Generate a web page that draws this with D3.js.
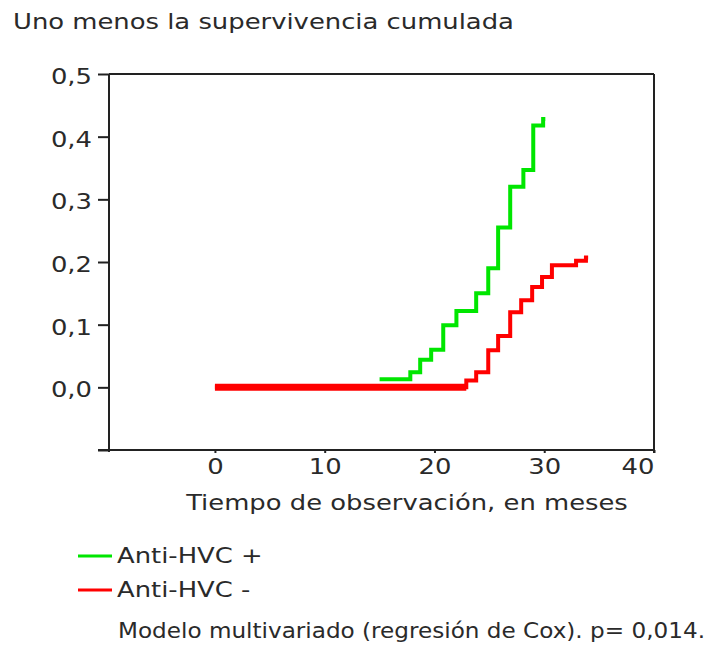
<!DOCTYPE html>
<html>
<head>
<meta charset="utf-8">
<script src="https://cdn.jsdelivr.net/npm/d3@7"></script>
<style>
  html, body { margin: 0; padding: 0; background: #fff; }
  svg { display: block; }
  text { font-family: "DejaVu Sans", Verdana, sans-serif; fill: #2a2a2a; }
</style>
</head>
<body>
<svg id="chart" width="713" height="651"></svg>
<script>
// ---- data ----
const titleText = "Uno menos la supervivencia cumulada";
const xAxisTitle = "Tiempo de observación, en meses";
const footnote = "Modelo multivariado (regresión de Cox). p= 0,014.";

const seriesNames = ["Anti-HVC +", "Anti-HVC -"];
const seriesColors = ["#00e600", "#ff0000"];

// Anti-HVC + : step times (months) and cumulative incidence
const greenTimes = [15.0, 17.8, 18.7, 19.7, 20.8, 22.0, 23.8, 24.9, 25.8, 26.9, 28.1, 29.0, 29.9, 30.1];
const greenVals  = [0.013, 0.024, 0.044, 0.060, 0.099, 0.122, 0.150, 0.190, 0.255, 0.320, 0.347, 0.418, 0.428, 0.428];

// Anti-HVC - : step times (months) and cumulative incidence
const redTimes = [0, 22.9, 23.8, 24.9, 25.8, 26.9, 27.9, 28.9, 29.8, 30.7, 32.9, 33.8, 34.0];
const redVals  = [0, 0.011, 0.024, 0.059, 0.082, 0.120, 0.139, 0.160, 0.176, 0.195, 0.202, 0.207, 0.207];

const xTicks = [0, 10, 20, 30, 40];
const xTickLabels = ["0", "10", "20", "30", "40"];
const yTicks = [-0.1, 0.0, 0.1, 0.2, 0.3, 0.4, 0.5];
const yTickLabels = ["", "0,0", "0,1", "0,2", "0,3", "0,4", "0,5"];

// ---- layout ----
const K = 1.23;          // horizontal stretch of the lettering in the reference
const FS = 21;
const M = { left: 109, right: 654, top: 74, bottom: 450 };

const svg = d3.select("#chart");

const x = d3.scaleLinear().domain([-9.65, 40]).range([M.left, M.right]);
const y = d3.scaleLinear().domain([-0.1, 0.5]).range([M.bottom, M.top]);

function stretch(sel, width) {
  sel.each(function () {
    const w = this.getComputedTextLength();
    if (w > 0) {
      this.setAttribute("textLength", (width || w * K).toFixed(1));
      this.setAttribute("lengthAdjust", "spacingAndGlyphs");
    }
  });
}

// title
svg.append("text").attr("x", 13).attr("y", 29)
  .style("font-size", FS + "px").text(titleText).call(stretch);

// frame (top and right)
svg.append("line").attr("x1", M.left).attr("x2", M.right).attr("y1", M.top).attr("y2", M.top)
  .attr("stroke", "#222").attr("stroke-width", 2);
svg.append("line").attr("x1", M.right).attr("x2", M.right).attr("y1", M.top).attr("y2", M.bottom + 3)
  .attr("stroke", "#222").attr("stroke-width", 2);

// y axis
const yAxis = d3.axisLeft(y).tickValues(yTicks)
  .tickFormat((d, i) => yTickLabels[i]).tickSize(11).tickSizeOuter(0).tickPadding(6);
const gy = svg.append("g").attr("transform", `translate(${M.left},0)`).call(yAxis);
gy.select(".domain").attr("stroke", "#222").attr("stroke-width", 2)
  .attr("d", `M0,${M.top}V${M.bottom + 2}`);
gy.selectAll(".tick line").attr("stroke", "#222").attr("stroke-width", 2);
gy.selectAll(".tick text").style("font-size", FS + "px").attr("fill", "#2a2a2a")
  .attr("font-family", null).attr("dy", "0.45em").call(stretch);

// x axis
const xAxis = d3.axisBottom(x).tickValues(xTicks)
  .tickFormat((d, i) => xTickLabels[i]).tickSize(3).tickSizeOuter(0).tickPadding(5);
const gx = svg.append("g").attr("transform", `translate(0,${M.bottom})`).call(xAxis);
gx.select(".domain").attr("stroke", "#222").attr("stroke-width", 2)
  .attr("d", `M${M.left - 11},0H${M.right + 1}`);
gx.selectAll(".tick line").attr("stroke", "#222").attr("stroke-width", 2);
gx.selectAll(".tick text").style("font-size", FS + "px").attr("fill", "#2a2a2a")
  .attr("font-family", null).attr("dy", "0.75em")
  .attr("text-anchor", (d, i) => i === xTicks.length - 1 ? "end" : "middle")
  .call(stretch);

// x axis title
svg.append("text").attr("x", 407).attr("y", 510).attr("text-anchor", "middle")
  .style("font-size", FS + "px").text(xAxisTitle).call(stretch);

// curves
const line = d3.line().x(d => x(d[0])).y(d => y(d[1])).curve(d3.curveStepAfter);
const red = d3.zip(redTimes, redVals);
const green = d3.zip(greenTimes, greenVals);

const plot = svg.append("g");
// red flat part at zero (drawn heavier in the reference)
const zeroEnd = red.findIndex(d => d[1] > 0);
plot.append("path").datum(red.slice(0, zeroEnd + 1).map((d, i, a) => i === a.length - 1 ? [d[0], 0] : d))
  .attr("d", line).attr("fill", "none").attr("stroke", seriesColors[1]).attr("stroke-width", 7);
plot.append("path").datum(red).attr("d", line).attr("fill", "none")
  .attr("stroke", seriesColors[1]).attr("stroke-width", 4).attr("stroke-linejoin", "miter");
plot.append("path").datum(green).attr("d", line).attr("fill", "none")
  .attr("stroke", seriesColors[0]).attr("stroke-width", 4).attr("stroke-linejoin", "miter");

// legend
const legendY = [556, 590];
seriesNames.forEach((name, i) => {
  svg.append("line").attr("x1", 78).attr("x2", 112).attr("y1", legendY[i]).attr("y2", legendY[i])
    .attr("stroke", seriesColors[i]).attr("stroke-width", 3);
  svg.append("text").attr("x", 117).attr("y", legendY[i] + 7)
    .style("font-size", FS + "px").text(name).call(stretch);
});

// footnote
svg.append("text").attr("x", 118).attr("y", 638)
  .style("font-size", FS + "px").text(footnote).call(stretch, 587);
</script>
</body>
</html>
